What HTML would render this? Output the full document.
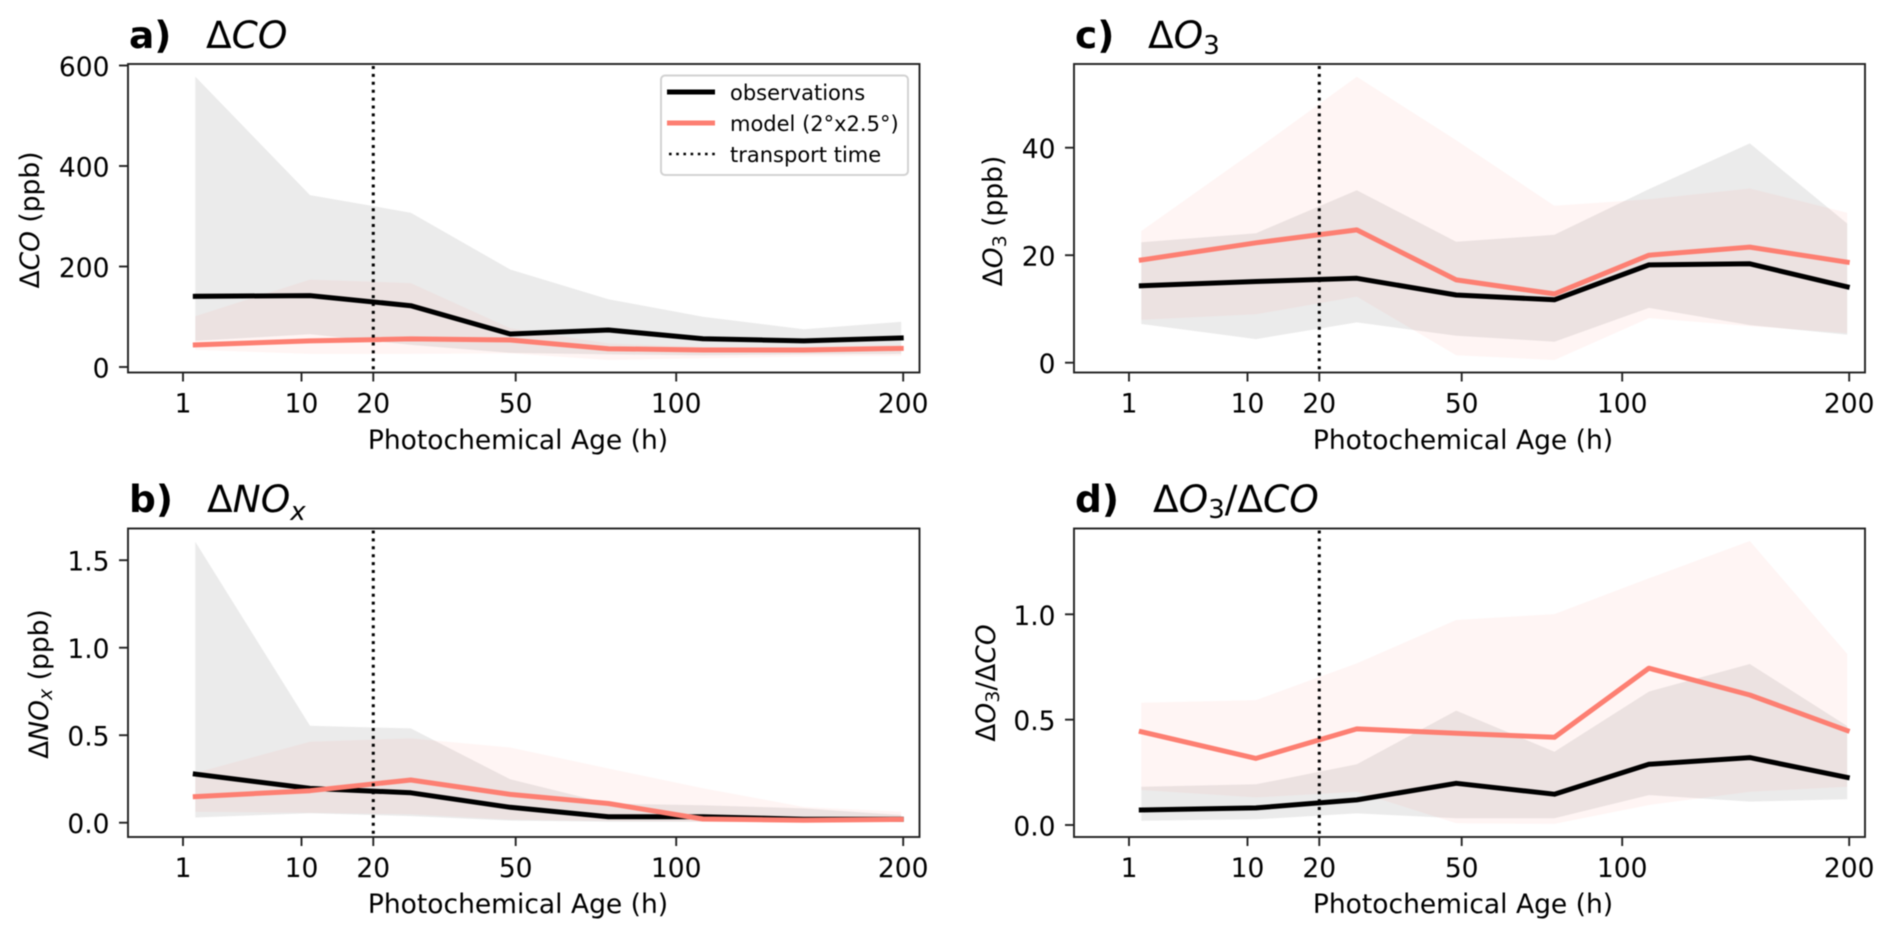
<!DOCTYPE html>
<html lang="en">
<head>
<meta charset="utf-8">
<title>Photochemical age panels</title>
<style>
html,body{margin:0;padding:0;background:#fff;}
svg{display:block;filter:blur(0.5px);}
text{font-family:"DejaVu Sans","Liberation Sans",sans-serif;fill:#000;}
.tick{font-size:26.5px;}
.axl{font-size:26.5px;}
.ttl{font-size:37.5px;}
.ttb{font-size:37.5px;font-weight:bold;}
.it{font-style:italic;}
.leg{font-size:21px;}
</style>
</head>
<body>
<svg id="figure" xmlns="http://www.w3.org/2000/svg" width="1892" height="937" viewBox="0 0 1892 937">
  <rect x="0" y="0" width="1892" height="937" fill="#fff"/>

  <g id="plot-a"></g>
  <g id="plot-b"></g>
  <g id="plot-c"></g>
  <g id="plot-d"></g>

  <text x="129" y="48"><tspan class="ttb">a)</tspan><tspan class="ttl" x="206">Δ</tspan><tspan class="ttl it">CO</tspan></text>
  <text x="129" y="512"><tspan class="ttb">b)</tspan><tspan class="ttl" x="207">Δ</tspan><tspan class="ttl it">NO</tspan><tspan class="it" style="font-size:26px" dy="8">x</tspan></text>
  <text x="1075" y="48"><tspan class="ttb">c)</tspan><tspan class="ttl" x="1148">Δ</tspan><tspan class="ttl it">O</tspan><tspan style="font-size:26px" dy="6">3</tspan></text>
  <text x="1075" y="512"><tspan class="ttb">d)</tspan><tspan class="ttl" x="1153">Δ</tspan><tspan class="ttl it">O</tspan><tspan style="font-size:26px" dy="6">3</tspan><tspan class="ttl" dy="-6">/Δ</tspan><tspan class="ttl it">CO</tspan></text>

  <text class="axl" x="518" y="449" text-anchor="middle">Photochemical Age (h)</text>
  <text class="axl" x="518" y="913" text-anchor="middle">Photochemical Age (h)</text>
  <text class="axl" x="1463" y="449" text-anchor="middle">Photochemical Age (h)</text>
  <text class="axl" x="1463" y="913" text-anchor="middle">Photochemical Age (h)</text>

  <text class="axl" transform="translate(39 220) rotate(-90)" text-anchor="middle">Δ<tspan class="it">CO</tspan> (ppb)</text>
  <text class="axl" transform="translate(48 684) rotate(-90)" text-anchor="middle">Δ<tspan class="it">NO</tspan><tspan class="it" style="font-size:19px" dy="4">x</tspan><tspan dy="-4"> (ppb)</tspan></text>
  <text class="axl" transform="translate(1002 221) rotate(-90)" text-anchor="middle">Δ<tspan class="it">O</tspan><tspan style="font-size:19px" dy="4">3</tspan><tspan dy="-4"> (ppb)</tspan></text>
  <text class="axl" transform="translate(995 683) rotate(-90)" text-anchor="middle">Δ<tspan class="it">O</tspan><tspan style="font-size:19px" dy="4">3</tspan><tspan dy="-4">/Δ</tspan><tspan class="it">CO</tspan></text>

  <g>
    <rect x="661" y="75.5" width="247" height="99.5" rx="4" ry="4" fill="#fff" fill-opacity="0.9" stroke="#d2d2d2" stroke-width="2"/>
    <line x1="667" y1="92" x2="715" y2="92" stroke="#000" stroke-width="5"/>
    <text class="leg" x="730" y="100">observations</text>
    <line x1="667" y1="123" x2="715" y2="123" stroke="#fd7f72" stroke-width="5"/>
    <text class="leg" x="730" y="131">model (2°x2.5°)</text>
    <line x1="669" y1="154" x2="715" y2="154" stroke="#000" stroke-width="2.6" stroke-dasharray="2.6 4.6"/>
    <text class="leg" x="730" y="162">transport time</text>
  </g>
</svg>

<script>
// Shared x data (photochemical age, hours)
const ageHours = [1.5, 11, 26.6, 48.6, 76.8, 110, 152, 199];
const xTickLabels = [1, 10, 20, 50, 100, 200];
const transportTime = 20;

// Panel a: delta CO (ppb)
const coObs = [140.7, 142, 122, 65.7, 73.6, 56.4, 52, 57.7];
const coObsHigh = [578, 342, 307, 194, 135, 100, 75, 90];
const coObsLow = [52, 65, 44, 28, 25, 23, 25, 26];
const coModel = [44, 52, 56, 53.7, 36.5, 33.8, 33.8, 37];
const coModelHigh = [101, 174, 167, 77, 47, 40, 40, 44];
const coModelLow = [34, 26, 26, 27, 14, 17.3, 20.7, 22];
const coTicks = [0, 200, 400, 600];

// Panel b: delta NOx (ppb)
const noxObs = [0.278, 0.196, 0.171, 0.088, 0.034, 0.034, 0.02, 0.02];
const noxObsHigh = [1.606, 0.554, 0.539, 0.248, 0.11, 0.10, 0.082, 0.044];
const noxObsLow = [0.03, 0.054, 0.038, 0.012, 0.006, 0.005, 0.005, 0.006];
const noxModel = [0.149, 0.183, 0.244, 0.162, 0.11, 0.021, 0.014, 0.019];
const noxModelHigh = [0.284, 0.463, 0.482, 0.43, 0.31, 0.197, 0.09, 0.063];
const noxModelLow = [0.063, 0.057, 0.048, 0.018, 0.01, 0.006, 0.006, 0.008];
const noxTicks = ["0.0", "0.5", "1.0", "1.5"];

// Panel c: delta O3 (ppb)
const o3Obs = [14.3, 15.1, 15.7, 12.6, 11.7, 18.2, 18.4, 14.1];
const o3ObsHigh = [22.4, 24.1, 32.1, 22.5, 23.8, 32.3, 40.8, 25.9];
const o3ObsLow = [7.2, 4.4, 7.5, 5, 3.9, 10.2, 7, 5.2];
const o3Model = [19.1, 22.3, 24.7, 15.4, 12.8, 20, 21.5, 18.7];
const o3ModelHigh = [24.5, 39.6, 53.2, 41.4, 29.2, 30.4, 32.4, 27.9];
const o3ModelLow = [8, 9, 12.3, 1.4, 0.5, 8.3, 6.8, 5.5];
const o3Ticks = [0, 20, 40];

// Panel d: delta O3 / delta CO
const ratioObs = [0.071, 0.081, 0.119, 0.198, 0.146, 0.288, 0.32, 0.226];
const ratioObsHigh = [0.182, 0.193, 0.288, 0.543, 0.348, 0.633, 0.764, 0.47];
const ratioObsLow = [0.02, 0.027, 0.055, 0.032, 0.032, 0.142, 0.111, 0.122];
const ratioModel = [0.443, 0.316, 0.456, 0.435, 0.416, 0.744, 0.617, 0.448];
const ratioModelHigh = [0.58, 0.593, 0.767, 0.973, 1.001, 1.171, 1.348, 0.812];
const ratioModelLow = [0.166, 0.131, 0.158, 0.008, 0.005, 0.095, 0.158, 0.182];
const ratioTicks = ["0.0", "0.5", "1.0"];

const SVGNS = "http://www.w3.org/2000/svg";
function mk(tag, attrs, parent) {
  const el = document.createElementNS(SVGNS, tag);
  for (const k in attrs) el.setAttribute(k, attrs[k]);
  parent.appendChild(el);
  return el;
}

function drawPanel(p) {
  const g = document.getElementById(p.id);
  // sqrt-scaled x axis; linear y axis
  const xScale = h => p.left + 55 + 54.8 * (Math.sqrt(h) - 1);
  const yScale = v => p.zeroY - Number(v) * p.pxPerUnit;
  const pts = (xs, ys) => xs.map((h, i) => xScale(h).toFixed(1) + "," + yScale(ys[i]).toFixed(1));
  const band = (hi, lo) => pts(ageHours, hi).concat(pts(ageHours, lo).reverse()).join(" ");

  const obsBand = mk("polygon", {points: band(p.obsHigh, p.obsLow), fill: "#000", "fill-opacity": 0.08}, g);
  
  

  const modelBand = mk("polygon", {points: band(p.modelHigh, p.modelLow), fill: "#fd7f72", "fill-opacity": 0.08}, g);
  
  

  const obsLine = mk("polyline", {points: pts(ageHours, p.obs).join(" "), fill: "none", stroke: "#000", "stroke-width": 5, "stroke-linejoin": "round", "stroke-linecap": "square"}, g);
  
  

  const modelLine = mk("polyline", {points: pts(ageHours, p.model).join(" "), fill: "none", stroke: "#fd7f72", "stroke-width": 5, "stroke-linejoin": "round", "stroke-linecap": "square"}, g);
  
  

  const vline = mk("line", {x1: xScale(transportTime), x2: xScale(transportTime), y1: p.top + 2, y2: p.bottom, stroke: "#000", "stroke-width": 3, "stroke-dasharray": "3 4.9"}, g);
  
  

  const frame = mk("rect", {x: p.left, y: p.top, width: p.right - p.left, height: p.bottom - p.top, fill: "none", stroke: "#222", "stroke-width": 1.9}, g);
  
  

  xTickLabels.forEach(t => {
    const x = xScale(t);
    const tick = mk("line", {x1: x, x2: x, y1: p.bottom, y2: p.bottom + 9, stroke: "#222", "stroke-width": 1.9}, g);
    
    
    const label = mk("text", {x: x, y: p.bottom + 40, "text-anchor": "middle", class: "tick"}, g);
    
    
    label.textContent = t;
  });

  p.yTicks.forEach(t => {
    const y = yScale(t);
    const tick = mk("line", {x1: p.left - 9, x2: p.left, y1: y, y2: y, stroke: "#222", "stroke-width": 1.9}, g);
    
    
    const label = mk("text", {x: p.left - 18.5, y: y + 10.5, "text-anchor": "end", class: "tick"}, g);
    
    
    label.textContent = t;
  });
}

drawPanel({id: "plot-a", key: "panel-a", left: 128, right: 919.5, top: 64, bottom: 372.5, zeroY: 367, pxPerUnit: 0.5025,
  obs: coObs, obsHigh: coObsHigh, obsLow: coObsLow, model: coModel, modelHigh: coModelHigh, modelLow: coModelLow, yTicks: coTicks});
drawPanel({id: "plot-b", key: "panel-b", left: 128, right: 919.5, top: 528.5, bottom: 837, zeroY: 822.7, pxPerUnit: 175,
  obs: noxObs, obsHigh: noxObsHigh, obsLow: noxObsLow, model: noxModel, modelHigh: noxModelHigh, modelLow: noxModelLow, yTicks: noxTicks});
drawPanel({id: "plot-c", key: "panel-c", left: 1074, right: 1865, top: 64, bottom: 372.5, zeroY: 362.7, pxPerUnit: 5.375,
  obs: o3Obs, obsHigh: o3ObsHigh, obsLow: o3ObsLow, model: o3Model, modelHigh: o3ModelHigh, modelLow: o3ModelLow, yTicks: o3Ticks});
drawPanel({id: "plot-d", key: "panel-d", left: 1074, right: 1865, top: 528.5, bottom: 837, zeroY: 825, pxPerUnit: 210.7,
  obs: ratioObs, obsHigh: ratioObsHigh, obsLow: ratioObsLow, model: ratioModel, modelHigh: ratioModelHigh, modelLow: ratioModelLow, yTicks: ratioTicks});
</script>
</body>
</html>
